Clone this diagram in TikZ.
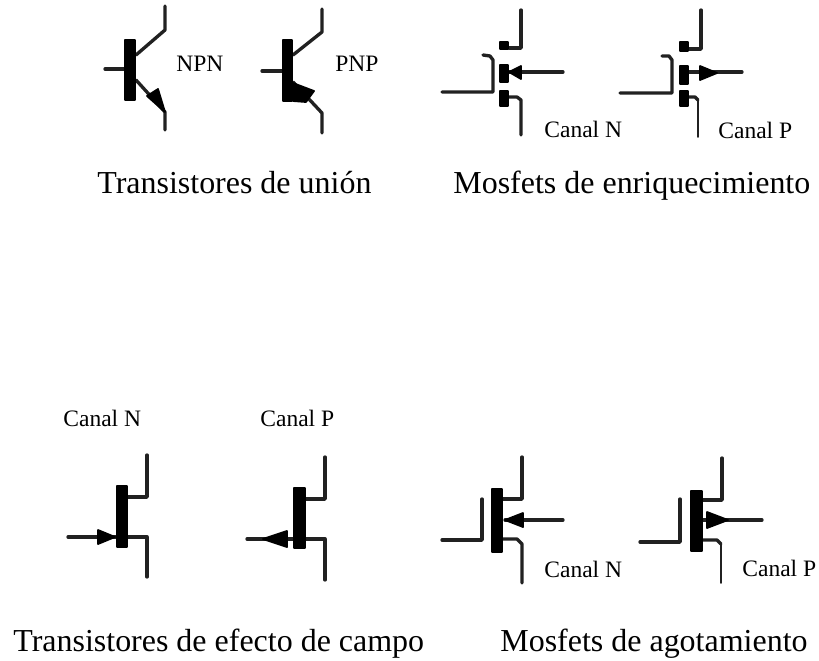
\documentclass[tikz,border=0pt]{standalone}
\usepackage{fontspec}
\setmainfont{Liberation Serif}
\definecolor{sqsqsq}{rgb}{0.13,0.13,0.13}
\tikzset{wire/.style={draw=sqsqsq,line width=1.9pt},thinwire/.style={draw=sqsqsq,line width=1pt},
bar/.style={fill=black,draw=black,line width=1pt},
small/.style={font=\fontsize{13.4}{16}\selectfont,inner sep=0pt,anchor=base west},
big/.style={font=\fontsize{18.2}{22}\selectfont,inner sep=0pt,anchor=base west}}
\begin{document}
\begin{tikzpicture}[line cap=round,line join=round,x=0.02cm,y=-0.02cm]
\useasboundingbox (0,0) rectangle (819,660);
\draw [wire] (105,69)-- (125,69);
\draw [wire] (136,55)-- (165,30)-- (165,6);
\draw [wire] (136,80)-- (165,112)-- (165,130);
\draw [bar] (125,40) rectangle (135,100);
\draw [bar] (147,96)-- (158,89)-- (165,112)-- cycle;
\draw [wire] (262,71)-- (283,71);
\draw [wire] (293,55)-- (322,32)-- (322,9);
\draw [wire] (293,82)-- (322,113)-- (322,133);
\draw [bar] (283,40) rectangle (292,101);
\draw [bar] (293,83)-- (314,91)-- (306,102)-- (293,101)-- cycle;
\draw [wire] (509,48)-- (521,48)-- (521,10);
\draw [wire] (509,97)-- (517,97)-- (521,100)-- (521,135);
\draw [wire] (509,72)-- (563,72);
\draw [wire] (442,92)-- (493,92)-- (493,60)-- (490,56)-- (483,55);
\draw [bar] (500,42) rectangle (508,49);
\draw [bar] (500,65) rectangle (508,82);
\draw [bar] (500,91) rectangle (508,106);
\draw [bar] (509,72)-- (521,66)-- (521,79)-- cycle;
\draw [wire] (689,49)-- (701,49)-- (701,10);
\draw [wire] (689,97)-- (695,97)-- (698,100);
\draw [thinwire] (698,100)-- (698,137);
\draw [wire] (689,72)-- (742,72);
\draw [wire] (620,93)-- (672,93)-- (672,60)-- (669,56)-- (662,56);
\draw [bar] (680,42) rectangle (688,51);
\draw [bar] (680,66) rectangle (688,84);
\draw [bar] (680,91) rectangle (688,106);
\draw [bar] (717,73)-- (700,66)-- (700,80)-- cycle;
\draw [wire] (128,497)-- (147,497)-- (147,455);
\draw [wire] (128,537)-- (147,537)-- (147,577);
\draw [wire] (68,537)-- (116,537);
\draw [bar] (117,486) rectangle (127,547);
\draw [bar] (115,537)-- (98,530)-- (98,544)-- cycle;
\draw [wire] (306,499)-- (325,499)-- (325,457);
\draw [wire] (306,539)-- (325,539)-- (325,580);
\draw [wire] (247,539)-- (293,539);
\draw [bar] (294,488) rectangle (305,548);
\draw [bar] (263,539)-- (287,531)-- (287,547)-- cycle;
\draw [wire] (503,499)-- (522,499)-- (522,457);
\draw [wire] (503,539)-- (517,539)-- (522,544)-- (522,583);
\draw [wire] (505,520)-- (563,520);
\draw [wire] (442,540)-- (482,540)-- (482,499);
\draw [bar] (492,489) rectangle (502,552);
\draw [bar] (505,520)-- (523,513)-- (523,527)-- cycle;
\draw [wire] (703,500)-- (722,500)-- (722,458);
\draw [wire] (703,540)-- (717,540)-- (721,544);
\draw [thinwire] (721,544)-- (721,583);
\draw [wire] (703,520)-- (762,520);
\draw [wire] (640,542)-- (680,542)-- (680,499);
\draw [bar] (691,491) rectangle (702,551);
\draw [bar] (728,520)-- (707,512)-- (707,528)-- cycle;
\node [small] (npn) at (176,71) {NPN};
\node [small] (pnp) at (335,71) {PNP};
\node [small] (enrN) at (544,137) {Canal N};
\node [small] (enrP) at (718,138) {Canal P};
\node [small] (fetN) at (63,426) {Canal N};
\node [small] (fetP) at (260,426) {Canal P};
\node [small] (agoN) at (544,577) {Canal N};
\node [small] (agoP) at (742,576) {Canal P};
\node [big] (union) at (97,193.5) {Transistores de unión};
\node [big] (enriq) at (453,193.5) {Mosfets de enriquecimiento};
\node [big] (campo) at (13,651.5) {Transistores de efecto de campo};
\node [big] (agot) at (500,651.5) {Mosfets de agotamiento};
\end{tikzpicture}
\end{document}
